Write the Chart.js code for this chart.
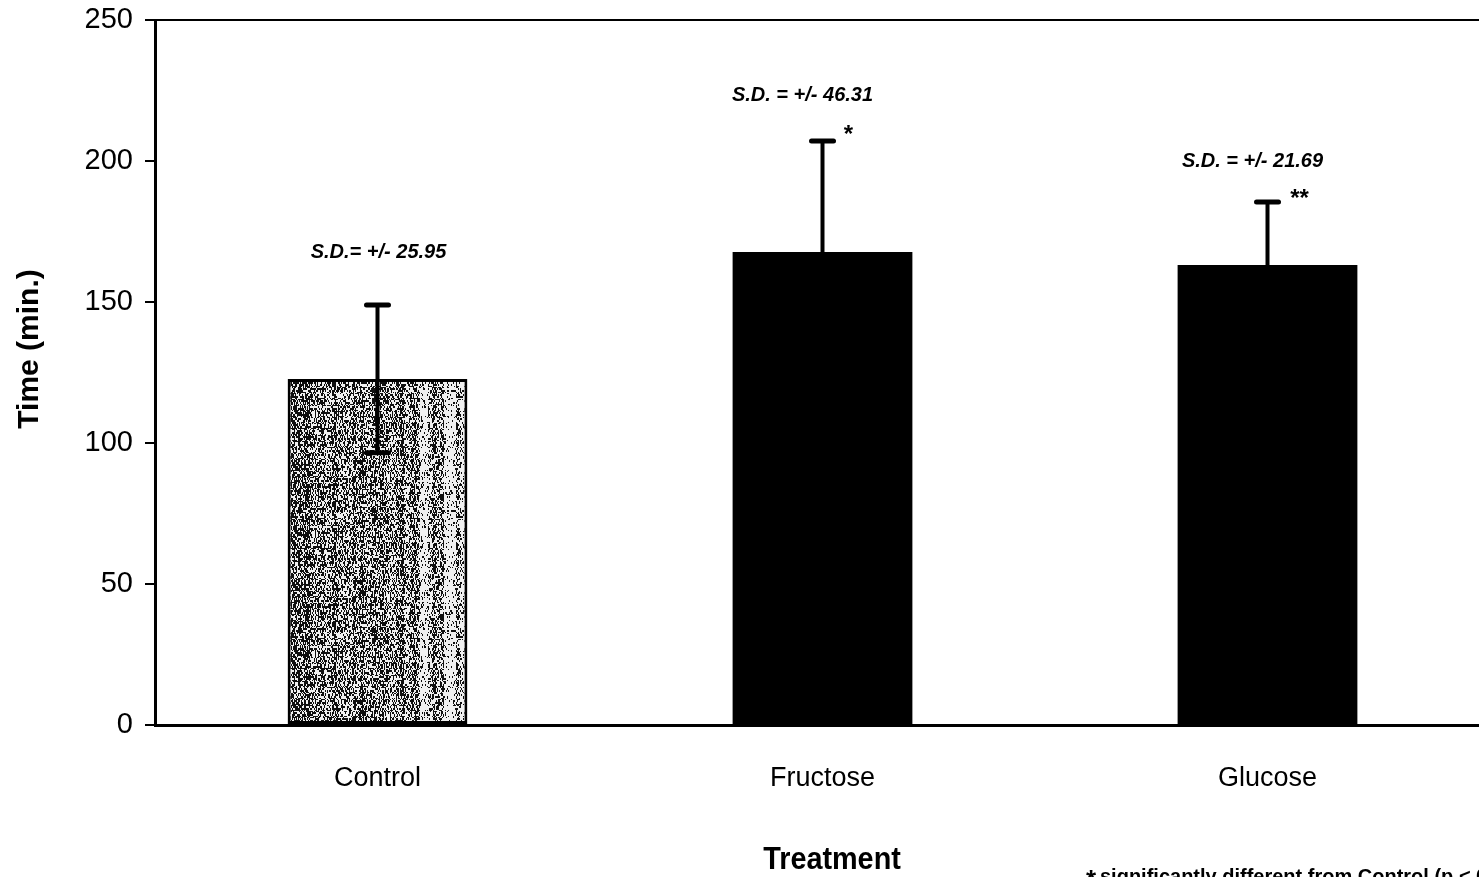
<!DOCTYPE html>
<html>
<head>
<meta charset="utf-8">
<title>Time by treatment</title>
<script src="https://cdn.jsdelivr.net/npm/chart.js@4.4.1/dist/chart.umd.min.js"></script>
<style>
  html, body { margin: 0; padding: 0; background: #fff; overflow: hidden; }
  #wrap { width: 1500px; height: 877px; }
</style>
</head>
<body>
<div id="wrap"><canvas id="chart" width="1500" height="877"></canvas></div>
<script>
// data
const categories = ['Control', 'Fructose', 'Glucose'];
const meanTime = [122.7, 167.7, 163.1];
const errUpper = [26.2, 39.4, 22.4];
const errLower = [26.2, 0, 0];
const sdLabels = ['S.D.= +/- 25.95', 'S.D. = +/- 46.31', 'S.D. = +/- 21.69'];
const sigMarks = ['', '*', '**'];
const yTicks = [0, 50, 100, 150, 200, 250];

// annotation placement (pixels / value units), not data
const sdLabelAt = [{ dx: 1, v: 167.7 }, { dx: -20, v: 223.4 }, { dx: -15, v: 200 }];
const sigAt = [null, { dx: 26, v: 209 }, { dx: 32, v: 186.5 }];

const FONT = '"Liberation Sans", Arial, sans-serif';

// speckled grey fill with vertical streaks for the control bar
function makeSpeckle() {
  const W = 180, H = 120;
  const c = document.createElement('canvas');
  c.width = W; c.height = H;
  const g = c.getContext('2d');
  const img = g.createImageData(W, H);
  const h = (a, b) => { const s = Math.sin(a * 12.9898 + b * 78.233) * 43758.5453; return s - Math.floor(s); };
  for (let x = 0; x < W; x++) {
    // brightness of the column: slow wobble plus streaks
    const band = h(Math.floor(x / 4), 3.7);
    let col = 0.28 + 0.3 * band + 0.15 * h(x, 9.1);
    if (band > 0.85) col += 0.2;
    for (let y = 0; y < H; y++) {
      const on = h(x + 0.5 * Math.floor(y / 3), Math.floor(y / 2)) < col;
      const v = on ? 240 : 15;
      const i = (y * W + x) * 4;
      img.data[i] = img.data[i + 1] = img.data[i + 2] = v;
      img.data[i + 3] = 255;
    }
  }
  g.putImageData(img, 0, 0);
  return g.createPattern(c, 'repeat');
}

const annotations = {
  id: 'annotations',
  afterDatasetsDraw(chart) {
    const { ctx, scales: { y } } = chart;
    const meta = chart.getDatasetMeta(0);
    ctx.save();
    ctx.strokeStyle = '#000';
    ctx.fillStyle = '#000';
    meta.data.forEach((bar, i) => {
      const x = bar.x;
      const top = y.getPixelForValue(meanTime[i] + errUpper[i]);
      const low = y.getPixelForValue(meanTime[i] - errLower[i]);
      ctx.lineWidth = 4;
      ctx.beginPath();
      ctx.moveTo(x, low);
      ctx.lineTo(x, top);
      ctx.stroke();
      ctx.lineWidth = 5;
      ctx.lineCap = 'round';
      ctx.beginPath();
      ctx.moveTo(x - 11, top); ctx.lineTo(x + 11, top);
      if (errLower[i] > 0) { ctx.moveTo(x - 11, low); ctx.lineTo(x + 11, low); }
      ctx.stroke();
      ctx.lineCap = 'butt';

      ctx.font = 'italic bold 20px ' + FONT;
      ctx.textAlign = 'center';
      ctx.textBaseline = 'middle';
      ctx.fillText(sdLabels[i], x + sdLabelAt[i].dx, y.getPixelForValue(sdLabelAt[i].v));

      if (sigMarks[i]) {
        ctx.font = 'bold 24px ' + FONT;
        ctx.fillText(sigMarks[i], x + sigAt[i].dx, y.getPixelForValue(sigAt[i].v));
      }
    });

    // axis titles
    ctx.textAlign = 'center';
    ctx.textBaseline = 'alphabetic';
    ctx.save();
    ctx.translate(832, 869);
    ctx.scale(0.9, 1);
    ctx.font = 'bold 32px ' + FONT;
    ctx.fillText('Treatment', 0, 0);
    ctx.restore();
    ctx.save();
    ctx.translate(38, 349);
    ctx.rotate(-Math.PI / 2);
    ctx.font = 'bold 30px ' + FONT;
    ctx.fillText('Time (min.)', 0, 0);
    ctx.restore();

    // footnote
    ctx.textAlign = 'left';
    ctx.font = 'bold 26px ' + FONT;
    ctx.fillText('*', 1086, 888);
    ctx.font = 'bold 20px ' + FONT;
    ctx.fillText('significantly different from Control (p < 0.05)', 1100, 883);
    ctx.restore();
  }
};

new Chart(document.getElementById('chart'), {
  type: 'bar',
  data: {
    labels: categories,
    datasets: [{
      data: meanTime,
      backgroundColor: [makeSpeckle(), '#000', '#000'],
      borderColor: '#000',
      borderWidth: [3, 0, 0],
      borderSkipped: false,
      barPercentage: 0.404,
      categoryPercentage: 1.0
    }]
  },
  options: {
    responsive: false,
    animation: false,
    layout: { padding: { top: 20, right: 10, left: 0, bottom: 0 } },
    plugins: { legend: { display: false }, tooltip: { enabled: false } },
    scales: {
      x: {
        afterFit: s => { s.height = 152; s.paddingLeft = 0; s.paddingRight = 0; },
        grid: { display: true, color: 'rgba(0,0,0,0)', drawTicks: false },
        border: { display: true, color: '#000', width: 3 },
        ticks: { color: '#000', padding: 37, font: { family: FONT, size: 27 } }
      },
      y: {
        min: 0, max: 250,
        afterFit: s => { s.width = 155; s.paddingTop = 0; s.paddingBottom = 0; },
        afterBuildTicks: s => { s.ticks = yTicks.map(v => ({ value: v })); },
        grid: {
          color: c => (c.tick && c.tick.value === 250 ? '#000' : 'rgba(0,0,0,0)'),
          lineWidth: 2,
          tickColor: '#000',
          tickLength: 10,
          tickWidth: 2
        },
        border: { display: true, color: '#000', width: 3 },
        ticks: { color: '#000', padding: 12, font: { family: FONT, size: 29 } }
      }
    }
  },
  plugins: [annotations]
});
</script>
</body>
</html>
